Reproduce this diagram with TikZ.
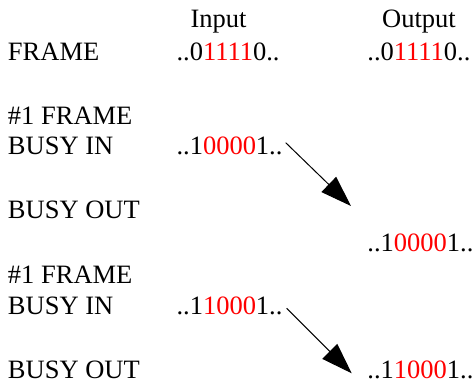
\documentclass[tikz,border=0pt]{standalone}
\usepackage{fontspec}
\setmainfont{Liberation Serif}
\usetikzlibrary{arrows.meta}
\definecolor{bitred}{RGB}{255,0,0}
\newcommand{\rd}[1]{\textcolor{bitred}{#1}}
\tikzset{
  lbl/.style={inner sep=0pt, outer sep=0pt, anchor=base west, font=\fontsize{26.5}{30}\selectfont},
  hdr/.style={inner sep=0pt, outer sep=0pt, anchor=base, font=\fontsize{26.5}{30}\selectfont},
  flow/.style={line width=1pt, -{Triangle[length=31pt,width=21pt]}}
}
\begin{document}
\begin{tikzpicture}[x=1pt,y=-1pt]
\useasboundingbox (0,0) rectangle (475,385);
\node[hdr] (hin) at (218.5,27.3) {Input};
\node[hdr] (hout) at (419,27.3) {Output};
\node[lbl] (frame) at (8,60.3) {FRAME};
\node[lbl] (in1) at (176.5,60.3) {..0\rd{1111}0..};
\node[lbl] (out1) at (367.4,60.3) {..0\rd{1111}0..};
\node[lbl] (fa) at (8,124.3) {\#1 FRAME};
\node[lbl] (bia) at (8,155) {BUSY IN};
\node[lbl] (in2) at (176.5,155) {..1\rd{0000}1..};
\node[lbl] (boa) at (8,218.5) {BUSY OUT};
\node[lbl] (out2) at (367.4,251.7) {..1\rd{0000}1..};
\node[lbl] (fb) at (8,284) {\#1 FRAME};
\node[lbl] (bib) at (8,314.3) {BUSY IN};
\node[lbl] (in3) at (176.5,314.3) {..1\rd{1000}1..};
\node[lbl] (bob) at (8,378.3) {BUSY OUT};
\node[lbl] (out3) at (367.4,378.3) {..1\rd{1000}1..};
\coordinate (a1s) at (285.7,142.7);
\coordinate (a1e) at (351,206);
\coordinate (a2s) at (286.7,308.3);
\coordinate (a2e) at (351.7,373.3);
\draw[flow] (a1s) -- (a1e);
\draw[flow] (a2s) -- (a2e);
\end{tikzpicture}
\end{document}
